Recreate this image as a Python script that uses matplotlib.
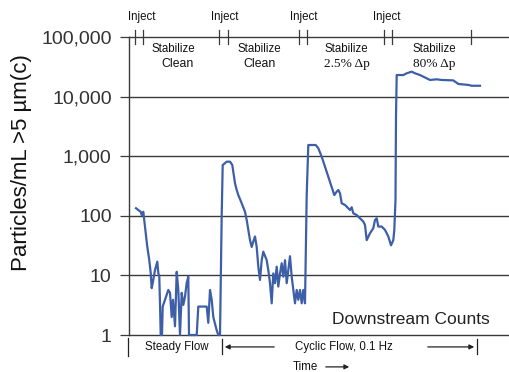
import matplotlib
matplotlib.use("Agg")
import matplotlib.pyplot as plt
from matplotlib.transforms import blended_transform_factory

# time (arbitrary units) and downstream counts
time = [7, 9.3, 11.7, 12.7, 14.3, 16, 18.3, 20.3, 21.7, 22.7, 24.3, 26, 28.3,
        29.3, 30.3, 31, 31.7, 33, 33.7, 36, 39.3, 41, 42.7, 44, 46, 47.7,
        49.3, 51, 52.7, 54.3, 56, 57.7, 59.3, 60, 67.7, 69.3, 77.7, 79.3, 81,
        82.7, 84.3, 87.7, 89.3, 91, 92.7, 93.7, 97.7, 101, 103.3, 106, 107.7,
        109.3, 112.7, 116, 117.7, 119.3, 121, 122.7, 124.3, 126, 127.7, 129.3,
        131, 132.7, 134.3, 137.7, 139.3, 141, 142.7, 144.3, 146, 147.7, 149.3,
        151, 152.7, 154.3, 156, 157.7, 159.3, 161, 162.7, 164.3, 166, 167.7,
        169.3, 171, 172.7, 174.3, 176, 177.7, 179.3, 186.7, 189.3, 192.7, 196,
        199.3, 202.7, 205.3, 207.7, 209.3, 211, 212.7, 216, 217.7, 219.3, 221,
        222.7, 224.3, 227.7, 231, 234.3, 236, 237.7, 241, 244.3, 246, 247.7,
        249.3, 252.7, 256, 259.3, 262, 264.3, 265.3, 266.5, 267, 267.7, 274.3,
        277.7, 282.7, 286, 291, 297.7, 301, 307.7, 312.7, 324.3, 329.3, 339.3,
        342.7, 351]
counts = [134, 125, 117, 103, 117, 66, 30, 18, 11, 6.1, 8.4, 12.3, 17,
          11, 9.5, 3.4, 1, 1, 3.0, 3.9, 5.7, 5.1, 2.0, 3.9, 1.4, 11.5,
          5.7, 1, 5.1, 3.2, 4.4, 7.5, 9.5, 1, 1, 3.0, 3.0, 1.6, 5.7,
          3.9, 2.0, 1.2, 1, 1, 103, 711, 809, 809, 711, 351, 271,
          223, 162, 117, 85, 58, 39, 30, 37, 45, 30, 14,
          8.4, 18, 25, 18, 12.3, 7.4, 3.4, 10.8, 7.4, 14, 6.5,
          10.8, 16, 9.5, 18, 7.4, 12.3, 21, 9.5, 5.7, 3.4, 5.7,
          3.9, 5.7, 3.4, 5.7, 3.4, 223, 1540, 1540, 1360, 982, 667,
          453, 308, 223, 254, 271, 239, 162, 152, 142, 134, 125,
          139, 110, 103, 91, 80, 70, 39, 51, 62, 85, 91,
          66, 66, 58, 45, 32, 39, 58, 184, 4600, 23000, 23000,
          24600, 26200, 24600, 23000, 20200, 19000, 19500, 19000, 18700, 16300, 15700,
          15200, 15200]

y_ticks = [1, 10, 100, 1000, 10000, 100000]
y_tick_labels = ["1", "10", "100", "1,000", "10,000", "100,000"]
phase_ticks = [6, 14, 90, 99, 170, 178, 255, 263, 342]
inject_x = [12.5, 96, 175, 258]
stabilize_x = [44, 130, 217.5, 305.5]
stabilize_sub = ["Clean", "Clean", "2.5% \u0394p", "80% \u0394p"]

SANS = ["Liberation Sans", "DejaVu Sans"]
SERIF = ["Liberation Serif", "DejaVu Serif"]
GRID = "#3a3a3a"
BLUE = "#3d5fa8"

fig = plt.figure(figsize=(5.09, 3.72), dpi=100)
ax = fig.add_axes([129 / 509, 1 - 335 / 372, 380 / 509, 298 / 372])

ax.plot(time, counts, color=BLUE, lw=1.6, clip_on=False, zorder=3)

ax.set_yscale("log")
ax.set_ylim(1, 100000)
ax.set_xlim(0, 380)
ax.set_yticks(y_ticks)
ax.set_yticklabels(y_tick_labels, family=SANS, fontsize=14, color="#333333")
ax.minorticks_off()
ax.tick_params(axis="y", direction="out", length=6.5, width=0.9,
               color=GRID, pad=6)
ax.set_xticks([])
for s in ["top", "right", "bottom"]:
    ax.spines[s].set_visible(False)
ax.spines["left"].set_color(GRID)
ax.spines["left"].set_linewidth(1.0)
for v in y_ticks:
    ax.axhline(v, color=GRID, lw=1.0, zorder=1, clip_on=False)

ax.set_ylabel("Particles/mL >5 \u00b5m(c)", family=SANS, fontsize=16,
              color="#111111")
ax.yaxis.set_label_coords(-0.255, 0.58)

tr = blended_transform_factory(ax.transData, ax.transAxes)
for t in phase_ticks:
    ax.plot([t, t], [0.977, 1.024], color=GRID, lw=0.9, transform=tr,
            clip_on=False)

for x in inject_x:
    ax.text(x, 1.068, "Inject", transform=tr, ha="center", va="center",
            family=SANS, fontsize=8.3, color="#111111")
for x, sub in zip(stabilize_x, stabilize_sub):
    ax.text(x, 0.96, "Stabilize", transform=tr, ha="center", va="center",
            family=SANS, fontsize=8.3, color="#111111")
    fam = SERIF if "\u0394" in sub else SANS
    size = 9.6 if "\u0394" in sub else 8.8
    ax.text(x + (4 if sub == "Clean" and x < 60 else 0), 0.91, sub,
            transform=tr, ha="center", va="center", family=fam,
            fontsize=size, color="#111111")

ax.text(282, 1.8, "Downstream Counts", ha="center", va="center",
        family=SANS, fontsize=12.5, color="#222222")

# bottom annotations: flow regimes and time arrow
kw = dict(transform=tr, clip_on=False, color="#222222", lw=0.9)
ax.plot([-1, -1], [-0.01, -0.07], **kw)
ax.text(47.5, -0.04, "Steady Flow", transform=tr, ha="center", va="center",
        family=SANS, fontsize=8.3, color="#111111")
ax.plot([93, 93], [-0.015, -0.065], **kw)
ax.annotate("", xy=(93, -0.04), xytext=(148, -0.04), xycoords=tr,
            textcoords=tr, arrowprops=dict(arrowstyle="-|>", color="#222222",
                                           lw=0.9, mutation_scale=7))
ax.text(214.5, -0.04, "Cyclic Flow, 0.1 Hz", transform=tr, ha="center",
        va="center", family=SANS, fontsize=8.3, color="#111111")
ax.annotate("", xy=(348, -0.04), xytext=(296, -0.04), xycoords=tr,
            textcoords=tr, arrowprops=dict(arrowstyle="-|>", color="#222222",
                                           lw=0.9, mutation_scale=7))
ax.plot([348, 348], [-0.015, -0.065], **kw)
ax.text(176, -0.107, "Time", transform=tr, ha="center", va="center",
        family=SANS, fontsize=8.3, color="#111111")
ax.annotate("", xy=(223, -0.107), xytext=(194, -0.107), xycoords=tr,
            textcoords=tr, arrowprops=dict(arrowstyle="-|>", color="#222222",
                                           lw=0.9, mutation_scale=7))

fig.savefig("out.png", dpi=100)
